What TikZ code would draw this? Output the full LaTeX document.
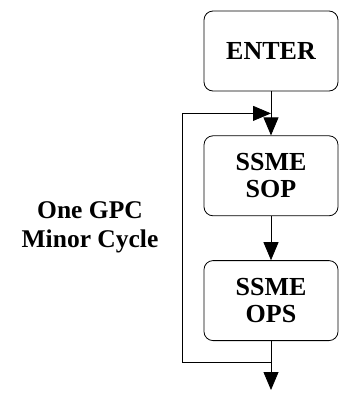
\documentclass[tikz,border=0pt]{standalone}
\usepackage{fontspec}
\setmainfont{Liberation Serif}
\usepackage{tikz}
\usetikzlibrary{arrows.meta,positioning,calc}

\begin{document}
\begin{tikzpicture}[
    x=1pt, y=1pt,
    node distance=44pt,
    block/.style={rectangle, draw, rounded corners=9pt, minimum width=134pt,
                  minimum height=80pt, align=center, line width=0.8pt,
                  font=\fontsize{26}{27}\selectfont\bfseries},
    caption/.style={align=center, font=\fontsize{25.5}{29}\selectfont\bfseries},
    arrow/.style={-{Triangle[length=18pt,width=15pt]}, line width=0.8pt}
]
\useasboundingbox (0,0) rectangle (341,-394);
\node[block] (enter) at (271,-51) {ENTER};
\node[block, below=of enter] (sop) {SSME\\SOP};
\node[block, below=of sop] (ops) {SSME\\OPS};
\node[caption] (cycle) at (90,-227) {One GPC\\Minor Cycle};

\coordinate (merge) at ($(enter.south)!0.5!(sop.north)$);
\coordinate[below=21pt of ops.south] (split);
\coordinate[below=49pt of ops.south] (exit);
\coordinate[left=89pt of split] (corner);

\draw[arrow] (enter) -- (sop);
\draw[arrow] (sop) -- (ops);
\draw[arrow] (ops) -- (exit);
\draw[arrow] (split) -- (corner) |- (merge);
\end{tikzpicture}
\end{document}
